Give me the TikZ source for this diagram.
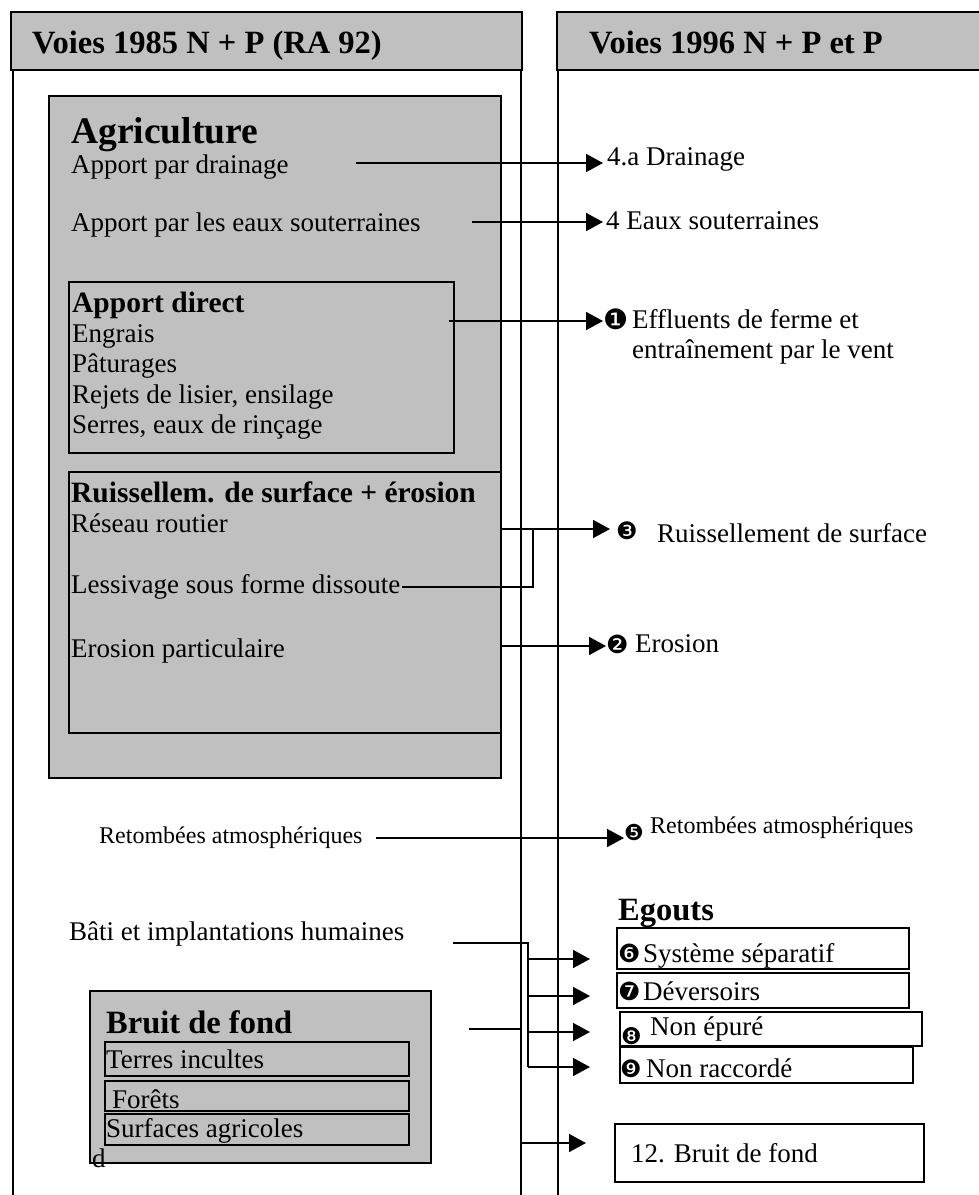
\documentclass[tikz,border=0pt]{standalone}
\usepackage{fontspec}
\setmainfont{Liberation Serif}
\newfontfamily\dingf{DejaVu Sans}
\usetikzlibrary{arrows.meta}
\definecolor{boxgray}{HTML}{C0C0C0}
\begin{document}
\begin{tikzpicture}[x=1pt,y=-1pt,
  txt/.style={anchor=base west,inner sep=0pt,font=\fontsize{27}{30}\selectfont},
  smalltxt/.style={anchor=base west,inner sep=0pt,font=\fontsize{24}{28}\selectfont},
  hdr/.style={anchor=base west,inner sep=0pt,font=\fontsize{32.5}{36}\selectfont\bfseries},
  bigtitle/.style={anchor=base west,inner sep=0pt,font=\fontsize{37.5}{40}\selectfont\bfseries},
  subtitle/.style={anchor=base west,inner sep=0pt,font=\fontsize{29.5}{33}\selectfont\bfseries},
  num/.style={anchor=base west,inner sep=0pt,font=\dingf\fontsize{#1}{#1}\selectfont},
  num/.default=26,
  frame/.style={draw=black,line width=1.6pt},
  gbox/.style={draw=black,fill=boxgray,line width=1.6pt},
  wire/.style={line width=1.6pt},
  arr/.style={line width=1.6pt,-{Triangle[length=17pt,width=18pt]}},
]
\useasboundingbox (0,0) rectangle (978,1195);

% column lines
\draw[wire] (13,70) -- (13,1195);
\draw[wire] (521,70) -- (521,1195);
\draw[wire] (558,70) -- (558,1195);

% headers
\draw[gbox] (11,12) rectangle (522,70);
\draw[gbox] (557,12) rectangle (990,70);
\node[hdr] (hL) at (32,53) {Voies 1985 N + P (RA 92)};
\node[hdr] (hR) at (589,53) {Voies 1996 N + P et P};

% Agriculture
\draw[gbox] (49,96) rectangle (501,778);
\node[bigtitle] (agri) at (71,143) {Agriculture};
\node[txt] (drain) at (71,173) {Apport par drainage};
\node[txt] (eaux) at (71,231) {Apport par les eaux souterraines};

\draw[frame] (69,282) rectangle (454,453);
\node[subtitle] (ad) at (72,312) {Apport direct};
\node[txt] (eng) at (72,342) {Engrais};
\node[txt] (pat) at (72,372) {Pâturages};
\node[txt] (rej) at (72,403) {Rejets de lisier, ensilage};
\node[txt] (ser) at (72,433) {Serres, eaux de rinçage};

\draw[frame] (69,472) rectangle (501,733);
\node[subtitle] (rs) at (71,502) {Ruissellem. de surface + érosion};
\node[txt] (rr) at (71,532) {Réseau routier};
\node[txt] (less) at (71,593) {Lessivage sous forme dissoute};
\node[txt] (ero) at (71,657) {Erosion particulaire};

% right side targets
\node[txt] (tDrain) at (607,165) {4.a Drainage};
\node[txt] (tEaux) at (606,229) {4 Eaux souterraines};
\node[num=28] (n1) at (603,329) {❶};
\node[txt] (tEff) at (632,328) {Effluents de ferme et};
\node[txt] (tEff2) at (632,358) {entraînement par le vent};
\node[num=24] (n3) at (616,539) {❸};
\node[txt] (tRuis) at (657,542) {Ruissellement de surface};
\node[num=25] (n2) at (606,653) {❷};
\node[txt] (tEro) at (635,652) {Erosion};

% connectors top
\coordinate (c1) at (356,163);
\draw[arr,shorten >=4pt] (c1) -- (c1 -| tDrain.west);
\coordinate (c2) at (472,222);
\draw[arr,shorten >=3pt] (c2) -- (c2 -| tEaux.west);
\coordinate (c3) at (449,321);
\draw[arr] (c3) -- (c3 -| n1.west);
\coordinate (c4) at (501,529);
\draw[arr,shorten >=6pt] (c4) -- (c4 -| n3.west);
\coordinate (c5) at (402,587);
\draw[wire] (c5) -- (533,587) -- (533,529);
\coordinate (c6) at (501,646);
\draw[arr] (c6) -- (c6 -| n2.west);

% Retombees
\node[smalltxt] (retL) at (99,843) {Retombées atmosphériques};
\node[num=22] (n5) at (624,840) {❺};
\node[smalltxt] (retR) at (650,833) {Retombées atmosphériques};
\coordinate (c7) at (376,838);
\draw[arr] (c7) -- (c7 -| n5.west);

% Egouts
\node[hdr] (eg) at (618,920) {Egouts};
\draw[frame] (617,928) rectangle (909,969);
\node[num=25] (n6) at (618,962) {❻};
\node[txt] (t6) at (643,962) {Système séparatif};
\draw[frame] (617,973) rectangle (909,1008);
\node[num=25] (n7) at (618,1000) {❼};
\node[txt] (t7) at (643,1000) {Déversoirs};
\draw[frame] (620,1012) rectangle (922,1046);
\node[num=23] (n8) at (621,1044) {❽};
\node[txt] (t8) at (650,1035) {Non épuré};
\draw[frame] (620,1047) rectangle (913,1083);
\node[num=24] (n9) at (620,1077) {❾};
\node[txt] (t9) at (646,1077) {Non raccordé};
\draw[frame] (615,1124) rectangle (924,1182);
\node[txt] (t12) at (631,1162) {12. Bruit de fond};

% Bati
\node[txt] (bati) at (69,940) {Bâti et implantations humaines};
\coordinate (c8) at (453,943);
\draw[wire] (c8) -- (528,943) -- (528,1067);
\foreach \yy in {959,996,1032,1067}{
  \draw[arr] (528,\yy) -- (590,\yy);
}

% Bruit de fond
\draw[gbox] (90,991) rectangle (431,1163);
\node[hdr] (bdf) at (106,1033) {Bruit de fond};
\draw[frame] (105,1042) rectangle (409,1076);
\node[txt] (ti) at (106,1068) {Terres incultes};
\draw[frame] (105,1081) rectangle (409,1111);
\node[txt] (fo) at (112,1108) {Forêts};
\draw[frame] (105,1114) rectangle (409,1145);
\node[txt] (sa) at (106,1137) {Surfaces agricoles};
\node[txt] (dd) at (92,1167) {d};
\coordinate (c9) at (469,1029);
\draw[arr] (c9) -- (521,1029) -- (521,1143) -- (586,1143);
\end{tikzpicture}
\end{document}
